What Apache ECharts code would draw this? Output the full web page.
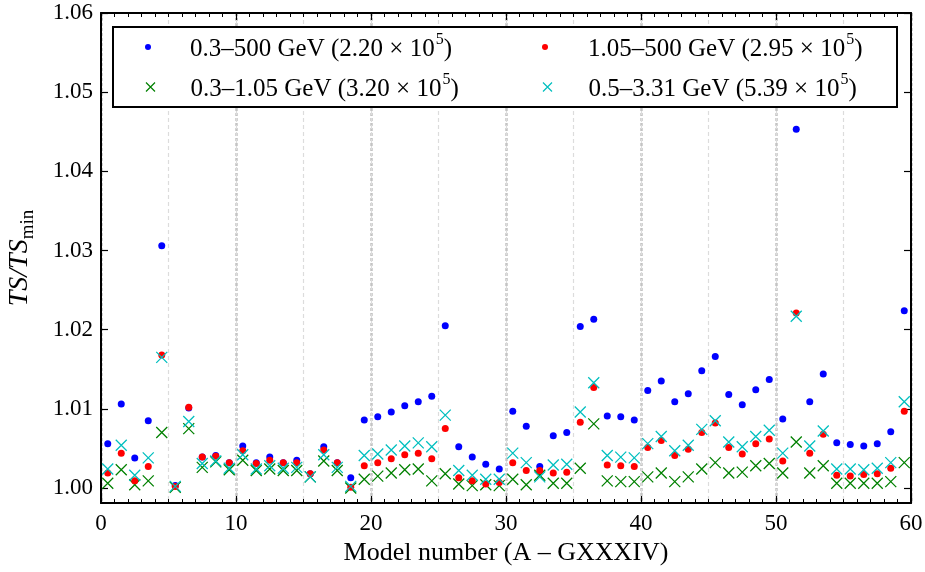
<!DOCTYPE html>
<html>
<head>
<meta charset="utf-8">
<script src="https://cdn.jsdelivr.net/npm/echarts@6/dist/echarts.min.js"></script>
<style>html,body{margin:0;padding:0;background:#fff}#c{width:925px;height:572px}</style>
</head>
<body>
<div id="c"></div>
<script>
const modelNumbers = Array.from({length: 60}, (_, i) => i + 1);
const xTicks = [0, 10, 20, 30, 40, 50, 60];
const yTicks = [1.00, 1.01, 1.02, 1.03, 1.04, 1.05, 1.06];

const seriesNames = [
  '0.3–500 GeV',
  '0.3–1.05 GeV',
  '1.05–500 GeV',
  '0.5–3.31 GeV'
];
const seriesTS = ['2.20', '3.20', '2.95', '5.39'];

const blue = [
  1.0056, 1.0106, 1.0038, 1.0085, 1.0306, 1.0003, 1.0101, 1.0039, 1.0041, 1.0032,
  1.0053, 1.0032, 1.0039, 1.0032, 1.0035, 1.0018, 1.0052, 1.0032, 1.0013, 1.0086,
  1.0090, 1.0096, 1.0104, 1.0109, 1.0116, 1.0205, 1.0052, 1.0039, 1.0030, 1.0024,
  1.0097, 1.0078, 1.0027, 1.0066, 1.0070, 1.0204, 1.0213, 1.0091, 1.0090, 1.0086,
  1.0123, 1.0135, 1.0109, 1.0119, 1.0148, 1.0166, 1.0118, 1.0105, 1.0124, 1.0137,
  1.0087, 1.0453, 1.0109, 1.0144, 1.0057, 1.0055, 1.0053, 1.0056, 1.0071, 1.0224
];
const red = [
  1.0019, 1.0044, 1.0009, 1.0027, 1.0168, 1.0002, 1.0102, 1.0039, 1.0040, 1.0032,
  1.0047, 1.0031, 1.0035, 1.0032, 1.0032, 1.0018, 1.0048, 1.0032, 1.0001, 1.0028,
  1.0032, 1.0037, 1.0042, 1.0044, 1.0037, 1.0075, 1.0013, 1.0009, 1.0005, 1.0007,
  1.0032, 1.0022, 1.0022, 1.0019, 1.0020, 1.0083, 1.0127, 1.0029, 1.0028, 1.0027,
  1.0051, 1.0060, 1.0041, 1.0049, 1.0070, 1.0082, 1.0051, 1.0043, 1.0056, 1.0062,
  1.0034, 1.0221, 1.0044, 1.0068, 1.0016, 1.0015, 1.0017, 1.0018, 1.0025, 1.0097
];
const green = [
  1.0006, 1.0023, 1.0004, 1.0009, 1.0070, 1.0001, 1.0075, 1.0026, 1.0033, 1.0023,
  1.0035, 1.0022, 1.0024, 1.0022, 1.0022, 1.0014, 1.0034, 1.0022, 1.0000, 1.0011,
  1.0015, 1.0019, 1.0023, 1.0024, 1.0009, 1.0018, 1.0005, 1.0003, 1.0004, 1.0003,
  1.0011, 1.0004, 1.0016, 1.0006, 1.0006, 1.0025, 1.0081, 1.0009, 1.0008, 1.0008,
  1.0014, 1.0019, 1.0008, 1.0014, 1.0024, 1.0032, 1.0019, 1.0020, 1.0028, 1.0031,
  1.0019, 1.0058, 1.0019, 1.0028, 1.0006, 1.0006, 1.0006, 1.0006, 1.0008, 1.0032
];
const cyan = [
  1.0024, 1.0054, 1.0016, 1.0038, 1.0165, 1.0002, 1.0084, 1.0031, 1.0034, 1.0025,
  1.0042, 1.0024, 1.0028, 1.0025, 1.0026, 1.0014, 1.0042, 1.0026, 1.0002, 1.0041,
  1.0043, 1.0048, 1.0053, 1.0057, 1.0052, 1.0092, 1.0022, 1.0016, 1.0011, 1.0011,
  1.0044, 1.0032, 1.0014, 1.0029, 1.0030, 1.0096, 1.0133, 1.0041, 1.0039, 1.0038,
  1.0056, 1.0065, 1.0047, 1.0054, 1.0074, 1.0085, 1.0058, 1.0052, 1.0065, 1.0073,
  1.0044, 1.0217, 1.0053, 1.0072, 1.0024, 1.0024, 1.0023, 1.0025, 1.0032, 1.0109
];

const FONT = 'Liberation Serif';
const XPATH = 'path://M0,0L10,10M10,0L0,10';
const COLORS = ['#0000ff', '#008000', '#ff0000', '#00bfbf'];
const pts = arr => arr.map((v, i) => [modelNumbers[i] - 0.5, v]);

function dotSeries(name, data, color) {
  return { name, type: 'scatter', data: pts(data), symbol: 'circle', symbolSize: 7,
    itemStyle: { color, opacity: 1 }, emphasis: { disabled: true }, z: 3 };
}
function crossSeries(name, data, color) {
  return { name, type: 'scatter', data: pts(data), symbol: XPATH, symbolSize: 11,
    itemStyle: { color: 'none', borderColor: color, borderWidth: 1.3, opacity: 1 },
    emphasis: { disabled: true }, z: 3 };
}

const richLegend = {
  t: { fontFamily: FONT, fontSize: 25, color: '#000', lineHeight: 30, verticalAlign: 'bottom' },
  s: { fontFamily: FONT, fontSize: 16, color: '#000', lineHeight: 30, verticalAlign: 'top', padding: [0, 0, 0, 1] }
};
function legendFmt(name) {
  const i = seriesNames.indexOf(name);
  return '{t|' + name + ' (' + seriesTS[i] + ' × 10}{s|5}{t|)}';
}

// legend item layout: [series index, icon centre x, row centre y, icon size, text start x]
const legendLayout = [
  [0, 148, 47, 6, 190],
  [1, 148, 87, 9, 188],
  [2, 545, 47, 6, 588],
  [3, 545, 87, 9, 586]
];
function makeLegend(cfg) {
  const [si, cx, cy, w, tx] = cfg;
  const isDot = si === 0 || si === 2;
  return {
    orient: 'horizontal', left: cx - w / 2, top: cy - 15, padding: 0,
    itemWidth: w, itemHeight: w, z: 5, selectedMode: false, formatter: legendFmt,
    textStyle: { rich: richLegend, padding: [0, 0, 0, tx - (cx - w / 2) - w - 5] },
    data: [isDot
      ? { name: seriesNames[si], icon: 'circle', itemStyle: { color: COLORS[si] } }
      : { name: seriesNames[si], icon: XPATH, itemStyle: { color: 'none', borderColor: COLORS[si], borderWidth: 1.2 } }]
  };
}

const axisLineStyle = { color: '#000', width: 2 };
const tickStyle = { color: '#000', width: 1.2 };

const option = {
  animation: false,
  grid: { left: 101, right: 14, top: 13, bottom: 69, show: false, outerBoundsMode: 'none', containLabel: false },
  xAxis: [
    { type: 'value', min: 0, max: 60, interval: 10, position: 'bottom',
      axisLine: { show: true, lineStyle: axisLineStyle, onZero: false },
      axisTick: { show: true, inside: true, length: 7, lineStyle: tickStyle },
      minorTick: { show: true, splitNumber: 10, length: 4, lineStyle: { color: '#000', width: 1 } },
      axisLabel: { show: true, fontFamily: FONT, fontSize: 23, color: '#000', margin: 9,
        customValues: xTicks },
      splitLine: { show: true, lineStyle: { color: '#c4c4c4', width: 2.5, type: [3, 2] } },
      name: 'Model number (A – GXXXIV)', nameLocation: 'middle', nameGap: 36,
      nameTextStyle: { fontFamily: FONT, fontSize: 26, color: '#000' } },
    { type: 'value', min: 0, max: 60, interval: 10, position: 'top',
      axisLine: { show: true, lineStyle: axisLineStyle, onZero: false },
      axisTick: { show: true, inside: true, length: 7, lineStyle: tickStyle },
      minorTick: { show: true, splitNumber: 10, length: 4, lineStyle: { color: '#000', width: 1 } },
      axisLabel: { show: false }, splitLine: { show: false } },
    { type: 'value', min: 0, max: 60, interval: 5, position: 'bottom',
      axisLine: { show: false }, axisTick: { show: false }, axisLabel: { show: false },
      splitLine: { show: true, lineStyle: { color: '#dcdcdc', width: 1.2, type: [4, 3] } } }
  ],
  yAxis: [
    { type: 'value', min: 0.9981, max: 1.06, position: 'left',
      axisLine: { show: true, lineStyle: axisLineStyle, onZero: false },
      axisTick: { show: true, inside: true, length: 7, customValues: yTicks, lineStyle: tickStyle },
      axisLabel: { show: true, fontFamily: FONT, fontSize: 23, color: '#000', margin: 8,
        customValues: yTicks, formatter: v => v.toFixed(2) },
      splitLine: { show: false },
      name: '{i|TS/TS}{m|min}', nameLocation: 'middle', nameGap: 63, nameRotate: 90,
      nameTextStyle: { rich: {
        i: { fontFamily: FONT, fontStyle: 'italic', fontSize: 28, color: '#000', lineHeight: 32, verticalAlign: 'top' },
        m: { fontFamily: FONT, fontSize: 19, color: '#000', lineHeight: 32, verticalAlign: 'bottom' } } } },
    { type: 'value', min: 0.9981, max: 1.06, position: 'right',
      axisLine: { show: true, lineStyle: axisLineStyle, onZero: false },
      axisTick: { show: true, inside: true, length: 7, customValues: yTicks, lineStyle: tickStyle },
      axisLabel: { show: false }, splitLine: { show: false } }
  ],
  graphic: [
    { type: 'rect', shape: { x: 113, y: 27, width: 784, height: 80 }, z: 3,
      style: { fill: '#fff', stroke: '#000', lineWidth: 2 } }
  ],
  legend: legendLayout.map(makeLegend),
  series: [
    dotSeries(seriesNames[0], blue, COLORS[0]),
    crossSeries(seriesNames[1], green, COLORS[1]),
    dotSeries(seriesNames[2], red, COLORS[2]),
    crossSeries(seriesNames[3], cyan, COLORS[3])
  ]
};

const chart = echarts.init(document.getElementById('c'), null, { renderer: 'canvas' });
chart.setOption(option);
</script>
</body>
</html>
